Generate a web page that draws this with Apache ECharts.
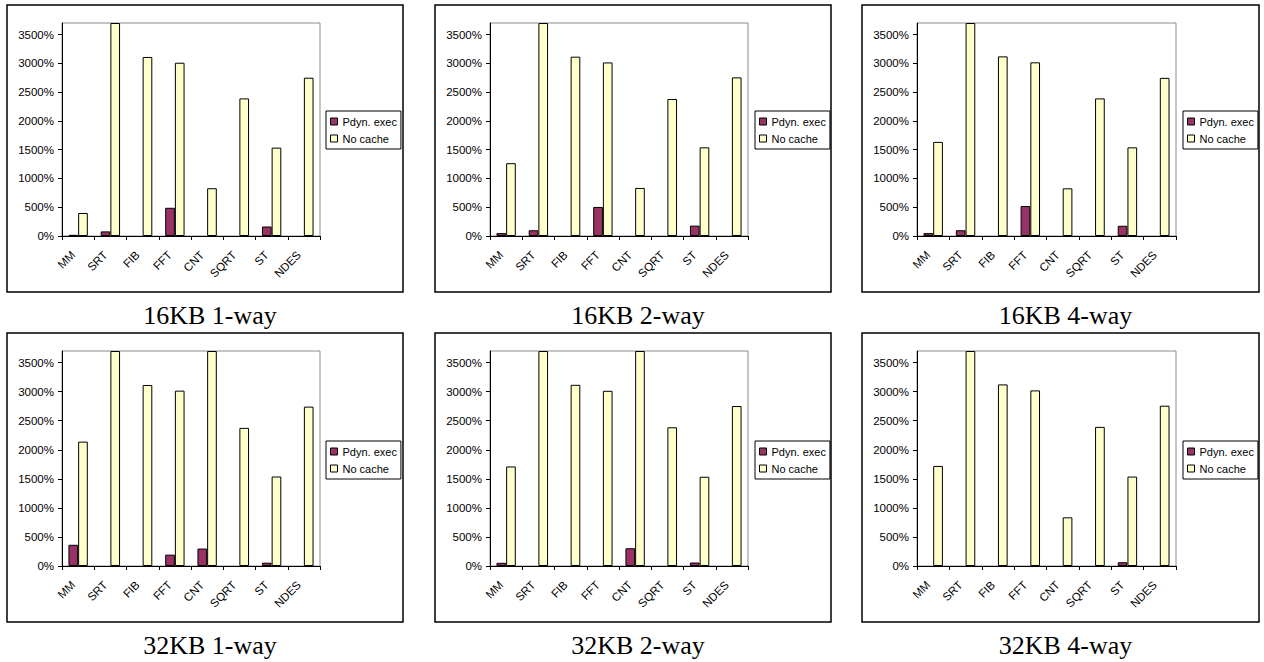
<!DOCTYPE html>
<html>
<head>
<meta charset="utf-8">
<script src="https://cdn.jsdelivr.net/npm/echarts@6/dist/echarts.min.js"></script>
<style>
html,body{margin:0;padding:0;background:#fff;}
#main{width:1264px;height:662px;}
</style>
</head>
<body>
<div id="main"></div>
<script>
const categories = ['MM', 'SRT', 'FIB', 'FFT', 'CNT', 'SQRT', 'ST', 'NDES'];
const seriesNames = ['Pdyn. exec', 'No cache'];
const panelTitles = ['16KB 1-way', '16KB 2-way', '16KB 4-way', '32KB 1-way', '32KB 2-way', '32KB 4-way'];

const pdyn_16KB_1way    = [20, 80, 0, 490, 0, 0, 165, 0];
const nocache_16KB_1way = [400, 3700, 3110, 3010, 830, 2390, 1535, 2750];
const pdyn_16KB_2way    = [50, 100, 0, 505, 0, 0, 180, 0];
const nocache_16KB_2way = [1265, 3700, 3115, 3015, 835, 2380, 1540, 2755];
const pdyn_16KB_4way    = [50, 100, 0, 520, 0, 0, 178, 0];
const nocache_16KB_4way = [1635, 3700, 3120, 3017, 828, 2390, 1540, 2747];
const pdyn_32KB_1way    = [365, 0, 0, 195, 300, 0, 57, 0];
const nocache_32KB_1way = [2140, 3700, 3115, 3018, 3700, 2377, 1540, 2743];
const pdyn_32KB_2way    = [55, 0, 0, 0, 305, 0, 60, 0];
const nocache_32KB_2way = [1713, 3700, 3118, 3015, 3700, 2387, 1536, 2753];
const pdyn_32KB_4way    = [0, 0, 0, 0, 0, 0, 65, 0];
const nocache_32KB_4way = [1722, 3700, 3125, 3022, 838, 2394, 1539, 2759];

const yMin = 0, yMax = 3700, yInterval = 500;

const panelData = [
  [pdyn_16KB_1way, nocache_16KB_1way],
  [pdyn_16KB_2way, nocache_16KB_2way],
  [pdyn_16KB_4way, nocache_16KB_4way],
  [pdyn_32KB_1way, nocache_32KB_1way],
  [pdyn_32KB_2way, nocache_32KB_2way],
  [pdyn_32KB_4way, nocache_32KB_4way]
];

// layout
const cols = [
  {boxL: 7, boxR: 403, plotL: 62, plotR: 320, legL: 326},
  {boxL: 435, boxR: 831, plotL: 490, plotR: 748, legL: 755},
  {boxL: 862, boxR: 1259, plotL: 917, plotR: 1176, legL: 1183}
];
const rows = [
  {boxT: 5, boxB: 292, plotT: 23, plotB: 236, legT: 111, capY: 297},
  {boxT: 333, boxB: 622, plotT: 351, plotB: 566, legT: 441, capY: 627}
];
const W = 1264, H = 662;
const colors = ['#993366', '#FFFFCC'];
const sans = 'Liberation Sans, Arial, sans-serif';
const serif = 'Liberation Serif, Times New Roman, serif';

const grid = [], xAxis = [], yAxis = [], series = [], legend = [], title = [], graphic = [];

for (let p = 0; p < 6; p++) {
  const c = cols[p % 3], r = rows[Math.floor(p / 3)];
  grid.push({
    left: c.plotL, top: r.plotT, width: c.plotR - c.plotL, height: r.plotB - r.plotT,
    show: true, borderColor: '#8c8c8c', borderWidth: 1, backgroundColor: '#fff'
  });
  xAxis.push({
    type: 'category', gridIndex: p, data: categories,
    axisLine: {show: true, lineStyle: {color: '#000', width: 1}},
    axisTick: {show: true, length: 4, lineStyle: {color: '#000'}},
    axisLabel: {rotate: 45, margin: 12, padding: [0, 7, 0, 0], fontSize: 11.5, color: '#000', fontFamily: sans, interval: 0},
    splitLine: {show: false}
  });
  yAxis.push({
    type: 'value', gridIndex: p, min: yMin, max: yMax, interval: yInterval,
    axisLine: {show: true, lineStyle: {color: '#000', width: 1}},
    axisTick: {show: true, length: 4, lineStyle: {color: '#000'}},
    axisLabel: {fontSize: 11.5, color: '#000', fontFamily: sans, margin: 8, showMaxLabel: false,
      formatter: v => v + '%'},
    splitLine: {show: false}
  });
  for (let s = 0; s < 2; s++) {
    series.push({
      type: 'bar', name: seriesNames[s], xAxisIndex: p, yAxisIndex: p,
      data: panelData[p][s].map(v => (v === 0 ? null : v)), barWidth: '30%', barGap: '0%',
      itemStyle: {color: colors[s], borderColor: '#000', borderWidth: 1},
      emphasis: {disabled: true}, animation: false
    });
  }
  legend.push({
    orient: 'vertical', left: c.legL, top: r.legT,
    data: seriesNames, icon: 'rect', itemWidth: 7, itemHeight: 7, itemGap: 4,
    padding: [4, 4, 4, 4], borderColor: '#000', borderWidth: 1, backgroundColor: '#fff',
    textStyle: {fontSize: 11, fontFamily: sans, color: '#000', lineHeight: 13},
    itemStyle: {borderColor: '#000', borderWidth: 1},
    selectedMode: false
  });
  title.push({
    text: panelTitles[p], left: (c.boxL + c.boxR) / 2, top: r.capY, textAlign: 'center',
    textStyle: {fontFamily: serif, fontSize: 26, fontWeight: 'normal', color: '#000'}
  });
  graphic.push({
    type: 'rect', shape: {x: c.boxL, y: r.boxT, width: c.boxR - c.boxL, height: r.boxB - r.boxT},
    style: {fill: 'none', stroke: '#000', lineWidth: 1.5}, z: 100, silent: true
  });
}

const chart = echarts.init(document.getElementById('main'), null, {renderer: 'svg', width: W, height: H});
chart.setOption({
  animation: false,
  backgroundColor: '#fff',
  grid, xAxis, yAxis, series, legend, title, graphic
});
</script>
</body>
</html>
